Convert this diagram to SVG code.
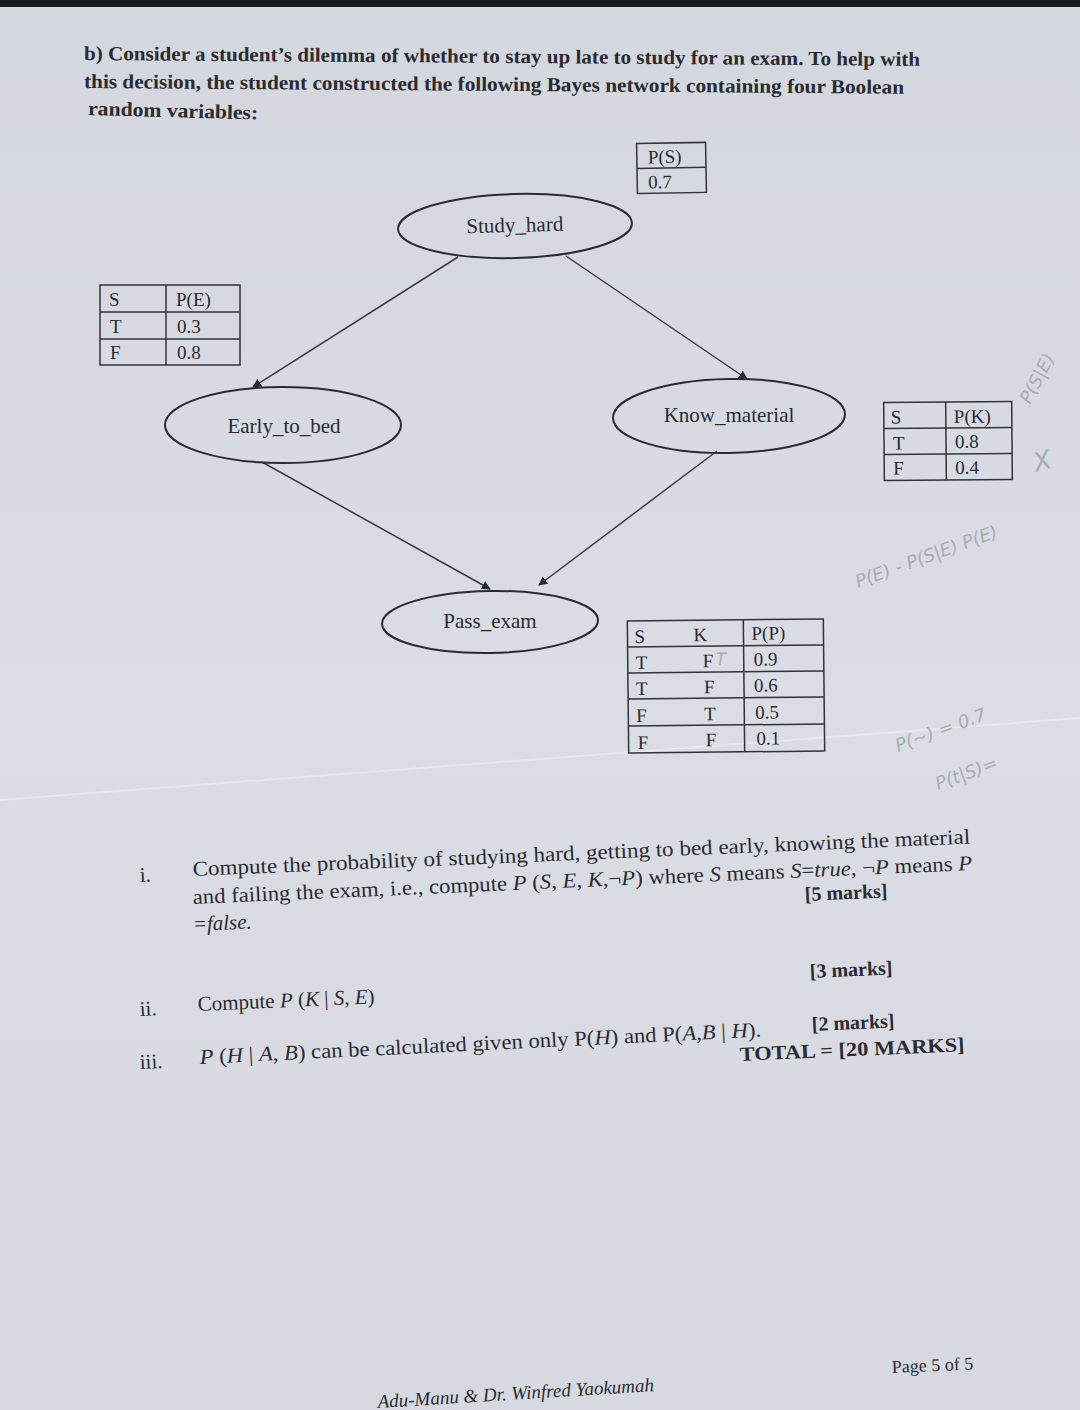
<svg xmlns="http://www.w3.org/2000/svg" width="1080" height="1410" viewBox="0 0 1080 1410">
<defs>
<linearGradient id="bg" x1="0" y1="0" x2="0" y2="1">
<stop offset="0" stop-color="#d3d7de"/>
<stop offset="0.5" stop-color="#dadde3"/>
<stop offset="1" stop-color="#d6d9df"/>
</linearGradient>
<marker id="arr" viewBox="0 0 10 10" refX="9" refY="5" markerWidth="9" markerHeight="9" markerUnits="userSpaceOnUse" orient="auto">
<path d="M0,0 L10,5 L0,10 z" fill="#2a2a2e"/>
</marker>
</defs>
<style>
.t{font-family:"Liberation Serif","Times New Roman",serif;fill:#2b2b30}
.b{font-weight:bold}
.i{font-style:italic}
.node{fill:none;stroke:#2b2b30;stroke-width:2}
.cell{fill:none;stroke:#333338;stroke-width:1.5}
.edge{fill:none;stroke:#3a3a40;stroke-width:1.5}
.hw{font-family:"DejaVu Sans",sans-serif;fill:#a9adb5;font-style:italic}
</style>
<rect x="0" y="0" width="1080" height="1410" fill="url(#bg)"/>
<rect x="0" y="0" width="1080" height="7" fill="#1a1a1a"/>
<path d="M0,800 Q500,760 1080,718" stroke="#e6e8ec" stroke-width="2" fill="none"/>

<!-- header -->
<text class="t b" font-size="20" x="84" y="60" transform="rotate(0.4 84 60)" textLength="836" lengthAdjust="spacingAndGlyphs">b) Consider a student’s dilemma of whether to stay up late to study for an exam. To help with</text>
<text class="t b" font-size="20" x="84" y="88" transform="rotate(0.4 84 88)" textLength="820" lengthAdjust="spacingAndGlyphs">this decision, the student constructed the following Bayes network containing four Boolean</text>
<text class="t b" font-size="20" x="88" y="115" transform="rotate(1.5 88 115)" textLength="170" lengthAdjust="spacingAndGlyphs">random variables:</text>

<!-- connectors -->
<g id="connectors">
<line class="edge" x1="458" y1="257" x2="253" y2="387" marker-end="url(#arr)"/>
<line class="edge" x1="566" y1="256" x2="747" y2="379" marker-end="url(#arr)"/>
<line class="edge" x1="262" y1="462" x2="490" y2="589" marker-end="url(#arr)"/>
<line class="edge" x1="717" y1="451" x2="539" y2="585" marker-end="url(#arr)"/>
</g>

<!-- nodes -->
<g id="study_hard">
<ellipse class="node" cx="515" cy="226" rx="117" ry="32" transform="rotate(-1.5 515 226)"/>
<text class="t" font-size="21" x="515" y="232" text-anchor="middle" transform="rotate(-1.5 515 232)">Study_hard</text>
</g>
<g id="early_to_bed">
<ellipse class="node" cx="283" cy="425" rx="118" ry="38"/>
<text class="t" font-size="21" x="284" y="433" text-anchor="middle">Early_to_bed</text>
</g>
<g id="know_material">
<ellipse class="node" cx="729" cy="416" rx="116" ry="37" transform="rotate(-1 729 416)"/>
<text class="t" font-size="21" x="729" y="422" text-anchor="middle">Know_material</text>
</g>
<g id="pass_exam">
<ellipse class="node" cx="490" cy="622" rx="108" ry="31" transform="rotate(-1 490 622)"/>
<text class="t" font-size="21" x="490" y="628" text-anchor="middle">Pass_exam</text>
</g>

<!-- CPT tables -->
<g id="table_ps" transform="rotate(-1 670 168)">
<rect class="cell" x="637" y="143" width="69" height="50"/>
<line class="cell" x1="637" y1="168" x2="706" y2="168"/>
<text class="t" font-size="19" x="648" y="163">P(S)</text>
<text class="t" font-size="19" x="648" y="188">0.7</text>
</g>
<g id="table_pe">
<rect class="cell" x="100" y="285" width="140" height="80"/>
<line class="cell" x1="166" y1="285" x2="166" y2="365"/>
<line class="cell" x1="100" y1="312" x2="240" y2="312"/>
<line class="cell" x1="100" y1="339" x2="240" y2="339"/>
<text class="t" font-size="19" x="109" y="306">S</text>
<text class="t" font-size="19" x="176" y="306">P(E)</text>
<text class="t" font-size="19" x="110" y="333">T</text>
<text class="t" font-size="19" x="177" y="333">0.3</text>
<text class="t" font-size="19" x="110" y="359">F</text>
<text class="t" font-size="19" x="177" y="359">0.8</text>
</g>
<g id="table_pk" transform="rotate(-0.5 948 440)">
<rect class="cell" x="884" y="402" width="128" height="78"/>
<line class="cell" x1="946" y1="402" x2="946" y2="480"/>
<line class="cell" x1="884" y1="428" x2="1012" y2="428"/>
<line class="cell" x1="884" y1="454" x2="1012" y2="454"/>
<text class="t" font-size="19" x="891" y="423">S</text>
<text class="t" font-size="19" x="954" y="423">P(K)</text>
<text class="t" font-size="19" x="893" y="449">T</text>
<text class="t" font-size="19" x="955" y="448">0.8</text>
<text class="t" font-size="19" x="893" y="474">F</text>
<text class="t" font-size="19" x="955" y="474">0.4</text>
</g>
<g id="table_pp" transform="rotate(-0.6 726 686)">
<rect class="cell" x="628" y="620" width="196" height="132"/>
<line class="cell" x1="744" y1="620" x2="744" y2="752"/>
<line class="cell" x1="628" y1="646" x2="824" y2="646"/>
<line class="cell" x1="628" y1="672" x2="824" y2="672"/>
<line class="cell" x1="628" y1="698" x2="824" y2="698"/>
<line class="cell" x1="628" y1="725" x2="824" y2="725"/>
<text class="t" font-size="19" x="635" y="642">S</text>
<text class="t" font-size="19" x="694" y="641">K</text>
<text class="t" font-size="19" x="752" y="640">P(P)</text>
<text class="t" font-size="19" x="636" y="668">T</text>
<text class="t" font-size="19" x="703" y="667">F</text>
<text class="hw" font-size="17" x="716" y="665">T</text>
<text class="t" font-size="19" x="754" y="666">0.9</text>
<text class="t" font-size="19" x="636" y="694">T</text>
<text class="t" font-size="19" x="704" y="693">F</text>
<text class="t" font-size="19" x="754" y="692">0.6</text>
<text class="t" font-size="19" x="636" y="721">F</text>
<text class="t" font-size="19" x="704" y="720">T</text>
<text class="t" font-size="19" x="755" y="719">0.5</text>
<text class="t" font-size="19" x="637" y="748">F</text>
<text class="t" font-size="19" x="705" y="746">F</text>
<text class="t" font-size="19" x="756" y="745">0.1</text>
</g>

<!-- handwritten pencil notes -->
<text class="hw" font-size="18" x="1030" y="405" transform="rotate(-62 1030 405)">P(S|E)</text>
<text class="hw" font-size="26" x="1036" y="472" transform="rotate(-15 1036 472)">X</text>
<text class="hw" font-size="18" x="858" y="588" transform="rotate(-20 858 588)">P(E) - P(S|E) P(E)</text>
<text class="hw" font-size="18" x="898" y="752" transform="rotate(-20 898 752)">P(~) = 0.7</text>
<text class="hw" font-size="18" x="938" y="790" transform="rotate(-20 938 790)">P(t|S)=</text>

<!-- questions -->
<text class="t" font-size="21" x="140" y="882" transform="rotate(-2.4 140 882)">i.</text>
<text class="t" font-size="21" x="193" y="876" transform="rotate(-2.4 193 876)" textLength="778" lengthAdjust="spacingAndGlyphs">Compute the probability of studying hard, getting to bed early, knowing the material</text>
<text class="t" font-size="21" x="193" y="904" transform="rotate(-2.5 193 904)" textLength="780" lengthAdjust="spacingAndGlyphs">and failing the exam, i.e., compute <tspan class="i">P</tspan> (<tspan class="i">S</tspan>, <tspan class="i">E</tspan>, <tspan class="i">K</tspan>,¬<tspan class="i">P</tspan>) where <tspan class="i">S</tspan> means <tspan class="i">S</tspan>=<tspan class="i">true</tspan>, ¬<tspan class="i">P</tspan> means <tspan class="i">P</tspan></text>
<text class="t b" font-size="20" x="805" y="901" transform="rotate(-2.5 805 901)">[5 marks]</text>
<text class="t i" font-size="21" x="193" y="931" transform="rotate(-2.5 193 931)">=false.</text>

<text class="t b" font-size="20" x="810" y="978" transform="rotate(-2.5 810 978)">[3 marks]</text>
<text class="t" font-size="21" x="140" y="1016" transform="rotate(-2.5 140 1016)">ii.</text>
<text class="t" font-size="21" x="198" y="1011" transform="rotate(-2.5 198 1011)">Compute <tspan class="i">P</tspan> (<tspan class="i">K</tspan> | <tspan class="i">S</tspan>, <tspan class="i">E</tspan>)</text>

<text class="t" font-size="21" x="140" y="1069" transform="rotate(-2.6 140 1069)">iii.</text>
<text class="t" font-size="21" x="200" y="1064" transform="rotate(-2.8 200 1064)" textLength="562" lengthAdjust="spacingAndGlyphs"><tspan class="i">P</tspan> (<tspan class="i">H</tspan> | <tspan class="i">A</tspan>, <tspan class="i">B</tspan>) can be calculated given only P(<tspan class="i">H</tspan>) and P(<tspan class="i">A</tspan>,<tspan class="i">B</tspan> | <tspan class="i">H</tspan>).</text>
<text class="t b" font-size="20" x="812" y="1031" transform="rotate(-2.5 812 1031)">[2 marks]</text>
<text class="t b" font-size="20" x="740" y="1061" transform="rotate(-2.5 740 1061)" textLength="225" lengthAdjust="spacingAndGlyphs">TOTAL = [20 MARKS]</text>

<!-- footer -->
<text class="t" font-size="18" x="892" y="1373" transform="rotate(-2.5 892 1373)">Page 5 of 5</text>
<text class="t i" font-size="19" x="378" y="1408" transform="rotate(-3.5 378 1408)">Adu-Manu &amp; Dr. Winfred Yaokumah</text>
</svg>
